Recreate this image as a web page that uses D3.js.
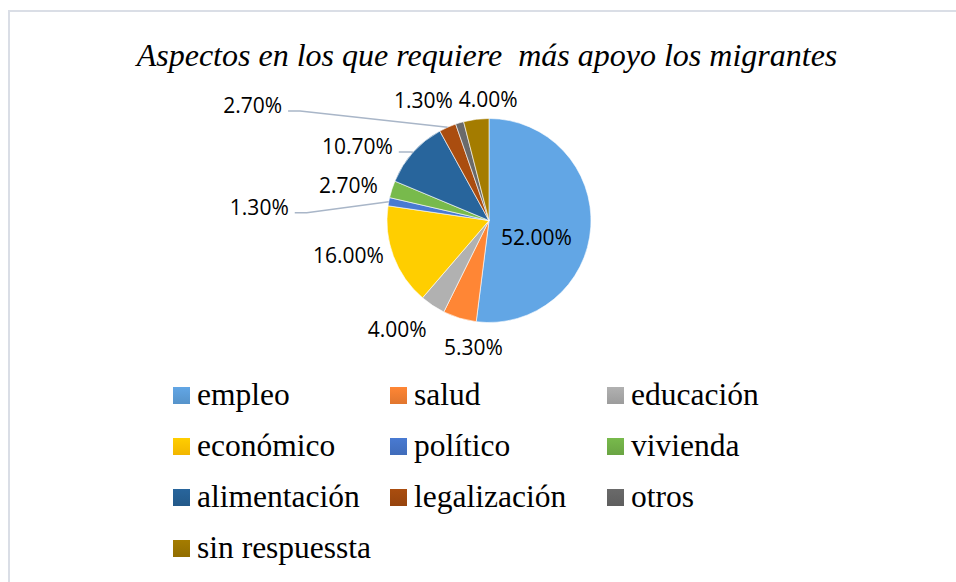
<!DOCTYPE html>
<html>
<head>
    <meta charset="utf-8">
    <script src="https://cdnjs.cloudflare.com/ajax/libs/d3/7.8.5/d3.min.js"></script>
    <style>
      body { margin: 0; background: #fff; }
    </style>
</head>
<body>
    <svg id="chart" width="956" height="582"></svg>
    <script>
      // data
      const categories = ['empleo', 'salud', 'educación', 'económico', 'político',
                          'vivienda', 'alimentación', 'legalización', 'otros', 'sin respuessta']
      const values = [52.0, 5.3, 4.0, 16.0, 1.3, 2.7, 10.7, 2.7, 1.3, 4.0]
      const colors = ['#5B9BD5', '#ED7D31', '#A5A5A5', '#FFC000', '#4472C4',
                      '#70AD47', '#255E91', '#9E480E', '#636363', '#997300']
      const title = 'Aspectos en los que requiere\u00a0 más apoyo los migrantes'

      // label nudges (dx, dy from the spot just outside each slice), and which get leader lines
      const labelNudge = [[-3.5, 14], [23, -1], [-18, -3], [-15, -12], [-98, 12],
                          [-13, 6.5], [-32, 16], [-182, 8], [-27, 8], [16, 12]]
      const hasLeader = [false, false, false, false, true, false, true, true, false, false]

      const svg = d3.select('#chart')
      const cx = 489, cy = 220.5, r = 102

      // chart frame
      svg.append('rect')
        .attr('x', 9).attr('y', 11)
        .attr('width', 980).attr('height', 600)
        .style('fill', 'none')
        .style('stroke', '#dadee6')
        .style('stroke-width', 2)

      svg.append('text')
        .attr('x', 487).attr('y', 66)
        .attr('text-anchor', 'middle')
        .style('font-family', '"Liberation Serif", "Times New Roman", serif')
        .style('font-style', 'italic')
        .style('font-size', '32px')
        .style('fill', '#000')
        .text(title)

      const data = categories.map((c, i) => ({ name: c, value: values[i], color: colors[i], i: i }))

      // gradients, lighter on top like the Office style
      const defs = svg.append('defs')
      data.forEach(d => {
        let g = defs.append('linearGradient')
          .attr('id', 'grad' + d.i)
          .attr('gradientUnits', 'userSpaceOnUse')
          .attr('x1', 0).attr('y1', cy - r).attr('x2', 0).attr('y2', cy + r)
        g.append('stop').attr('offset', '0%').attr('stop-color', d3.color(d.color).brighter(0.2))
        g.append('stop').attr('offset', '100%').attr('stop-color', d3.color(d.color).darker(0.15))
        let lg = defs.append('linearGradient')
          .attr('id', 'lg' + d.i)
          .attr('x1', 0).attr('y1', 0).attr('x2', 0).attr('y2', 1)
        lg.append('stop').attr('offset', '0%').attr('stop-color', d3.color(d.color).brighter(0.2))
        lg.append('stop').attr('offset', '100%').attr('stop-color', d3.color(d.color).darker(0.15))
      })

      const pie = d3.pie().sort(null).value(d => d.value)
      const arc = d3.arc().innerRadius(0).outerRadius(r)
      const arcs = pie(data)

      const pieG = svg.append('g').attr('transform', 'translate(' + cx + ',' + cy + ')')

      pieG.selectAll('path')
        .data(arcs)
        .enter()
        .append('path')
        .attr('d', arc)
        .style('fill', d => 'url(#grad' + d.data.i + ')')
        .style('stroke', '#fff')
        .style('stroke-width', 0.6)

      const fmt = v => v.toFixed(2) + '%'
      const labelFont = '"Open Sans", "Liberation Sans", sans-serif'

      arcs.forEach((a, i) => {
        let mid = (a.startAngle + a.endAngle) / 2
        let lx, ly
        if (i === 0) {
          // big slice: label inside
          let c = arc.centroid(a)
          lx = c[0] + labelNudge[i][0]
          ly = c[1] + labelNudge[i][1]
        } else {
          let rr = r + 32
          lx = Math.sin(mid) * rr + labelNudge[i][0]
          ly = -Math.cos(mid) * rr + labelNudge[i][1]
        }
        let t = pieG.append('text')
          .attr('x', lx).attr('y', ly)
          .attr('dy', '0.35em')
          .attr('text-anchor', 'middle')
          .style('font-family', labelFont)
          .style('font-size', '21px')
          .style('fill', '#000')
          .text(fmt(values[i]))

        if (hasLeader[i]) {
          let w = t.node().getComputedTextLength()
          let x0 = lx + w / 2 + 6
          let y0 = ly + 5
          let px = Math.sin(mid) * r, py = -Math.cos(mid) * r
          pieG.append('path')
            .attr('d', d3.line()([[x0, y0], [x0 + 12, y0], [px, py]]))
            .style('fill', 'none')
            .style('stroke', '#a9b6c8')
            .style('stroke-width', 1.6)
        }
      })

      // legend, three columns
      const legend = svg.append('g')
      const colX = [173, 390, 607]
      const rowY = [405, 456, 507, 558]
      data.forEach((d, i) => {
        let col = i % 3, row = Math.floor(i / 3)
        let g = legend.append('g').attr('transform', 'translate(' + colX[col] + ',' + rowY[row] + ')')
        g.append('rect')
          .attr('x', 0).attr('y', -18)
          .attr('width', 17).attr('height', 17)
          .style('fill', 'url(#lg' + i + ')')
        g.append('text')
          .attr('x', 24).attr('y', 0)
          .style('font-family', '"Liberation Serif", "Times New Roman", serif')
          .style('font-size', '31.5px')
          .style('fill', '#000')
          .text(d.name)
      })
    </script>
</body>
</html>
